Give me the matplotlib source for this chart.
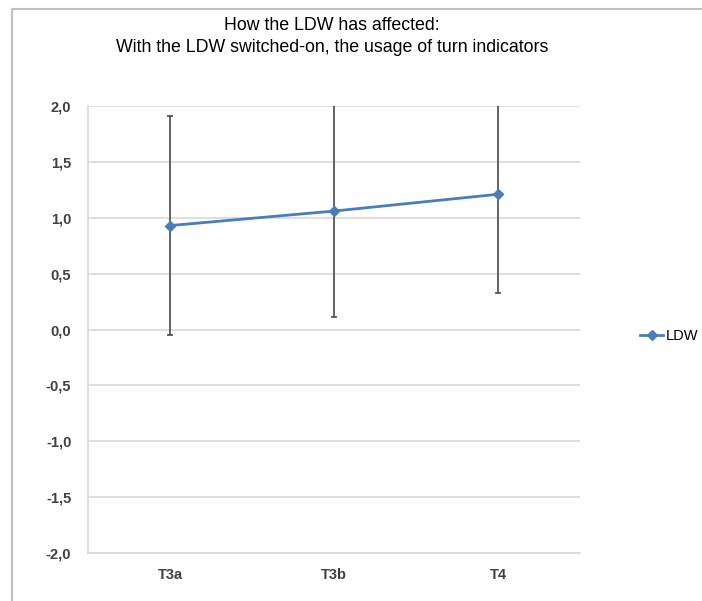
import matplotlib
matplotlib.use('Agg')
import matplotlib.pyplot as plt
from matplotlib.lines import Line2D
from matplotlib.ticker import FuncFormatter

plt.rcParams['font.family'] = ['Liberation Sans', 'DejaVu Sans']

# data
phases = ['T3a', 'T3b', 'T4']
ldw_mean = [0.93, 1.06, 1.21]
ldw_err = [0.98, 0.95, 0.88]
yticks = [-2.0, -1.5, -1.0, -0.5, 0.0, 0.5, 1.0, 1.5, 2.0]

fig = plt.figure(figsize=(7.02, 6.01), dpi=100)
ax = fig.add_axes([88/702, 1-553/601, (580-88)/702, (553-106)/601])

x = list(range(len(phases)))
ax.errorbar(x, ldw_mean, yerr=ldw_err, fmt='none', ecolor='#4a4a4a',
            elinewidth=1.2, capsize=2.5, capthick=1.2, zorder=2)
ax.plot(x, ldw_mean, color='#4A7EBB', lw=2, marker='D', ms=5.5,
        mec='#4A7EBB', mfc='#4A7EBB', label='LDW', zorder=3)

ax.set_xlim(-0.5, 2.5)
ax.set_ylim(-2, 2)
ax.set_yticks(yticks)
ax.yaxis.set_major_formatter(FuncFormatter(lambda v, p: ('%.1f' % v).replace('.', ',')))
ax.set_xticks(x)
ax.set_xticklabels(phases)
ax.grid(axis='y', color='#D9D9D9', lw=1.2)
ax.set_axisbelow(True)
for s in ['top', 'right']:
    ax.spines[s].set_visible(False)
for s in ['left', 'bottom']:
    ax.spines[s].set_color('#D9D9D9')
    ax.spines[s].set_linewidth(1.2)
ax.tick_params(length=0, labelsize=10.5, labelcolor='#404040')
ax.tick_params(axis='y', pad=12)
ax.tick_params(axis='x', pad=11)
for lab in ax.get_xticklabels() + ax.get_yticklabels():
    lab.set_fontweight('bold')

fig.text(332/702, 1-25/601, 'How the LDW has affected:', ha='center', va='center', fontsize=12.8)
fig.text(332/702, 1-48/601, 'With the LDW switched-on, the usage of turn indicators',
         ha='center', va='center', fontsize=12.8)

fig.legend(loc='center left', bbox_to_anchor=(640/702, 1-336/601), frameon=False,
           fontsize=10.5, handlelength=1.6, handletextpad=0.15, borderpad=0, borderaxespad=0)

# outer chart border (left and top edges visible)
fig.add_artist(Line2D([12/702, 12/702], [0, 1-9/601], color='#C0C0C0', lw=1.5))
fig.add_artist(Line2D([12/702, 1], [1-9/601, 1-9/601], color='#C0C0C0', lw=1.5))

fig.savefig('out.png', dpi=100)
